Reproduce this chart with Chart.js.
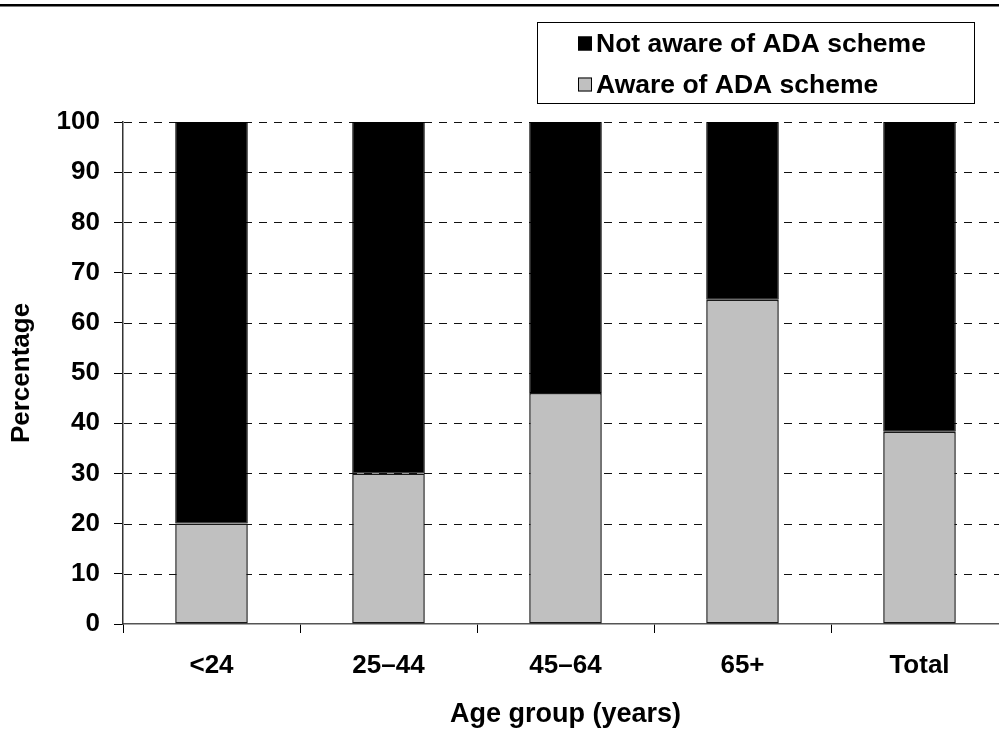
<!DOCTYPE html>
<html>
<head>
<meta charset="utf-8">
<script src="https://cdn.jsdelivr.net/npm/chart.js@4.4.1/dist/chart.umd.min.js"></script>
<style>
  html, body { margin: 0; padding: 0; background: #fff; overflow: hidden; }
  #wrap { position: relative; width: 1010px; height: 731px; }
</style>
</head>
<body>
<div id="wrap"><canvas id="awareness_chart"></canvas></div>
<script>
// DATA
const age_groups = ['<24', '25\u201344', '45\u201364', '65+', 'Total'];
const aware_values = [20, 30, 46, 64.6, 38.3];
const not_aware_values = [80, 70, 54, 35.4, 61.7];
const y_ticks = [0, 10, 20, 30, 40, 50, 60, 70, 80, 90, 100];

const FONT = "'Liberation Sans', Arial, sans-serif";

// legend box + rule at top of the figure
const frame_plugin = {
  id: 'frame',
  afterDraw(chart) {
    const ctx = chart.ctx;
    ctx.save();
    ctx.strokeStyle = '#000';
    ctx.lineWidth = 2.5;
    ctx.beginPath();
    ctx.moveTo(0, 5.2);
    ctx.lineTo(999, 5.2);
    ctx.stroke();

    // legend box
    ctx.lineWidth = 1;
    ctx.strokeRect(537.5, 22.5, 437, 81);

    const items = [chart.data.datasets[1], chart.data.datasets[0]];
    ctx.font = 'bold 26.5px ' + FONT;
    ctx.textBaseline = 'middle';
    items.forEach((ds, i) => {
      const y = 43.5 + i * 41;
      ctx.fillStyle = ds.backgroundColor;
      ctx.fillRect(578, y - 7, 14, 14);
      ctx.strokeStyle = '#000';
      ctx.strokeRect(578.5, y - 6.5, 13, 13);
      ctx.fillStyle = '#000';
      ctx.fillText(ds.label, 596, y + 1);
    });
    ctx.restore();
  }
};

// dashed horizontal grid lines behind the bars
const dash_grid_plugin = {
  id: 'dashGrid',
  beforeDatasetsDraw(chart) {
    const y = chart.scales.y;
    const area = chart.chartArea;
    const c = chart.ctx;
    c.save();
    c.strokeStyle = '#111';
    c.lineWidth = 1;
    c.setLineDash([8, 7]);
    y_ticks.forEach(v => {
      if (v === 0) return;
      const py = Math.round(y.getPixelForValue(v)) + 0.5;
      c.beginPath();
      c.moveTo(area.left + 1, py);
      c.lineTo(area.right, py);
      c.stroke();
    });
    c.restore();
  }
};

const ctx = document.getElementById('awareness_chart').getContext('2d');

new Chart(ctx, {
  type: 'bar',
  data: {
    labels: age_groups,
    datasets: [
      {
        label: 'Aware of ADA scheme',
        data: aware_values,
        backgroundColor: '#c0c0c0',
        borderColor: '#1a1a1a',
        borderWidth: 1.5,
        borderSkipped: false,
        barPercentage: 0.82,
        categoryPercentage: 0.5,
      },
      {
        label: 'Not aware of ADA scheme',
        data: not_aware_values,
        backgroundColor: '#000000',
        borderColor: '#000000',
        borderWidth: 1,
        borderSkipped: false,
        barPercentage: 0.82,
        categoryPercentage: 0.5,
      },
    ],
  },
  options: {
    responsive: true,
    maintainAspectRatio: false,
    animation: false,
    layout: { padding: { top: 122, right: 2, bottom: 0, left: 0 } },
    plugins: {
      legend: { display: false },
      tooltip: { enabled: false },
    },
    scales: {
      x: {
        stacked: true,
        grid: {
          display: true,
          drawOnChartArea: false,
          drawTicks: true,
          tickLength: 9,
          color: '#000',
        },
        border: { display: true, color: '#555', width: 1.5 },
        ticks: {
          color: '#000',
          font: { family: FONT, size: 26, weight: 'bold' },
          padding: 17,
        },
        title: {
          display: true,
          text: 'Age group (years)',
          color: '#000',
          font: { family: FONT, size: 27, weight: 'bold' },
          padding: { top: 0, bottom: 0 },
        },
        afterFit(scale) { scale.height = 107; },
      },
      y: {
        stacked: true,
        min: 0,
        max: 100,
        afterBuildTicks(scale) { scale.ticks = y_ticks.map(v => ({ value: v })); },
        grid: {
          drawOnChartArea: false,
          drawTicks: true,
          color: '#000',
          lineWidth: 1,
          tickLength: 9,
        },
        border: { display: true, color: '#333', width: 1.5 },
        ticks: {
          color: '#000',
          font: { family: FONT, size: 26, weight: 'bold' },
          padding: 14,
        },
        title: {
          display: true,
          text: 'Percentage',
          color: '#000',
          font: { family: FONT, size: 26, weight: 'bold' },
          padding: { top: 6, bottom: 0 },
        },
        afterFit(scale) { scale.width = 123; },
      },
    },
  },
  plugins: [frame_plugin, dash_grid_plugin],
});
</script>
</body>
</html>
